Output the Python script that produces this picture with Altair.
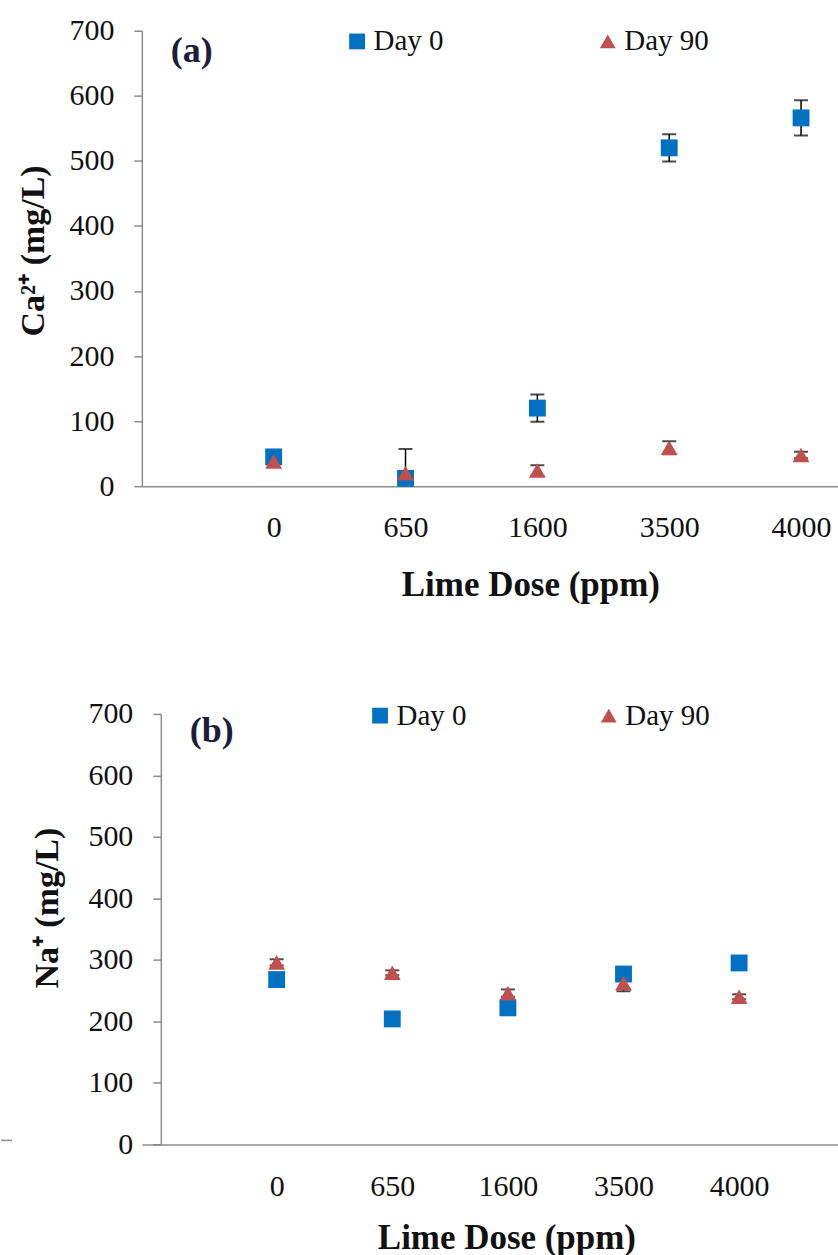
import altair as alt
import pandas as pd

doses = ["0", "650", "1600", "3500", "4000"]
series = ["Day 0", "Day 90"]
colors = ["#0070C0", "#C0504D"]
shapes = ["square", "triangle-up"]

ca_day0 = [45, 12, 120, 520, 566]
ca_day0_err = [3, 45, 21, 21, 27]
ca_day90 = [38, 20, 24, 59, 48]
ca_day90_err = [3, 3, 8, 10, 5]

na_day0 = [268, 204, 222, 277, 295]
na_day0_err = [5, 4, 4, 5, 4]
na_day90 = [296, 279, 246, 262, 240]
na_day90_err = [5, 4, 6, 13, 4]

y_ticks = [0, 100, 200, 300, 400, 500, 600, 700]
panel_labels = ["(a)", "(b)"]
y_titles = ["Ca²⁺ (mg/L)", "Na⁺ (mg/L)"]
x_title = "Lime Dose (ppm)"

FONT = "Liberation Serif"
GRAY = "#8c8c8c"
TXT = "#111111"


def make_df(v0, e0, v90, e90):
    rows = []
    for s, vals, errs in ((series[0], v0, e0), (series[1], v90, e90)):
        for i, (d, v, e) in enumerate(zip(doses, vals, errs)):
            rows.append({"pos": i + 1, "dose": d, "series": s, "value": v,
                         "lo": v - e, "hi": v + e})
    return pd.DataFrame(rows)


label_expr = "[''," + ",".join(f"'{d}'" for d in doses) + "][datum.value]"


def panel(df, x_domain, height, y_title, y_offset, ytx, yty, xtx, xty, xlabpad,
          label, lx, ly, legx, legy, colpad, stray=False):
    x = alt.X("pos:Q",
              scale=alt.Scale(domain=x_domain, nice=False, zero=False),
              axis=alt.Axis(values=[1, 2, 3, 4, 5], labelExpr=label_expr,
                            ticks=False, tickSize=0, grid=False,
                            domainColor=GRAY, domainWidth=1.5,
                            labelFont=FONT, labelFontSize=30, labelColor=TXT,
                            labelPadding=xlabpad, labelBaseline="middle",
                            labelOverlap=False, labelFlush=False,
                            title=x_title, titleFont=FONT, titleFontSize=35,
                            titleFontWeight="bold", titleColor=TXT,
                            titleX=xtx, titleY=xty, titleAlign="center",
                            titleBaseline="alphabetic"))
    y_axis = alt.Axis(values=y_ticks, grid=False, ticks=True, tickSize=8,
                      tickColor=GRAY, tickWidth=1.5, domainColor=GRAY,
                      domainWidth=1.5, labelFont=FONT, labelFontSize=30,
                      labelColor=TXT, labelPadding=20, offset=y_offset,
                      title=y_title, titleFont=FONT, titleFontSize=34,
                      titleFontWeight="bold", titleColor=TXT, titleX=ytx,
                      titleY=yty, titleAngle=270, titleAlign="center",
                      titleBaseline="middle")
    yscale = alt.Scale(domain=[0, 700], nice=False)
    base = alt.Chart(df)
    err = base.mark_rule(color="black", strokeWidth=1.5, clip=True).encode(
        x=x, y=alt.Y("lo:Q", scale=yscale, axis=y_axis), y2="hi:Q")
    cap_hi = base.mark_tick(orient="horizontal", color="black", size=14,
                            thickness=2, clip=True).encode(
        x=x, y=alt.Y("hi:Q", scale=yscale))
    cap_lo = base.mark_tick(orient="horizontal", color="black", size=14,
                            thickness=2, clip=True).encode(
        x=x, y=alt.Y("lo:Q", scale=yscale))
    legend = alt.Legend(orient="none", legendX=legx, legendY=legy,
                        direction="horizontal", title=None, labelFont=FONT,
                        labelFontSize=29, labelColor=TXT, symbolSize=250,
                        symbolStrokeWidth=0, labelOffset=2,
                        columnPadding=colpad, symbolOpacity=1)
    pts = base.mark_point(filled=True, opacity=1, size=285, strokeWidth=0).encode(
        x=x, y=alt.Y("value:Q", scale=yscale),
        color=alt.Color("series:N", scale=alt.Scale(domain=series, range=colors),
                        legend=legend),
        shape=alt.Shape("series:N", scale=alt.Scale(domain=series, range=shapes),
                        legend=legend))
    txt = alt.Chart(pd.DataFrame({"t": [label]})).mark_text(
        font=FONT, fontSize=36, fontWeight="bold", color="#1c1c3c",
        align="center", baseline="middle").encode(
        x=alt.value(lx), y=alt.value(ly), text="t:N")
    layers = [err, cap_hi, cap_lo, pts, txt]
    if stray:
        # fragment of a neighbouring panel's axis at the far left edge
        layers.append(alt.Chart(pd.DataFrame({"t": [0]})).mark_rule(
            color=GRAY, strokeWidth=1.5).encode(
            x=alt.value(-141), x2=alt.value(-130), y=alt.value(height - 4)))
    return alt.layer(*layers).properties(width=697, height=height)


df_ca = make_df(ca_day0, ca_day0_err, ca_day90, ca_day90_err)
df_na = make_df(na_day0, na_day0_err, na_day90, na_day90_err)

top = panel(df_ca, [0, 697 / 132], 456, y_titles[0], 0, -108, 220, 389, 109, 41,
            panel_labels[0], 50, 20, 201, -4, 149)
bottom = panel(df_na, [-19.25 / 115.75, -19.25 / 115.75 + 697 / 115.75], 431,
               y_titles[1], -19, -113, 194, 365, 104, 42,
               panel_labels[1], 70, 17, 224, -13, 127, stray=True)

chart = alt.vconcat(top, bottom, spacing=228, bounds="flush").resolve_scale(
    x="independent", y="independent", color="independent", shape="independent"
).resolve_legend(color="independent", shape="independent").configure_view(
    stroke=None
).properties(padding={"left": 0, "top": 15, "right": 0, "bottom": 0},
             background="white")

chart.save("out.html", embed_options={"renderer": "svg", "actions": False})
